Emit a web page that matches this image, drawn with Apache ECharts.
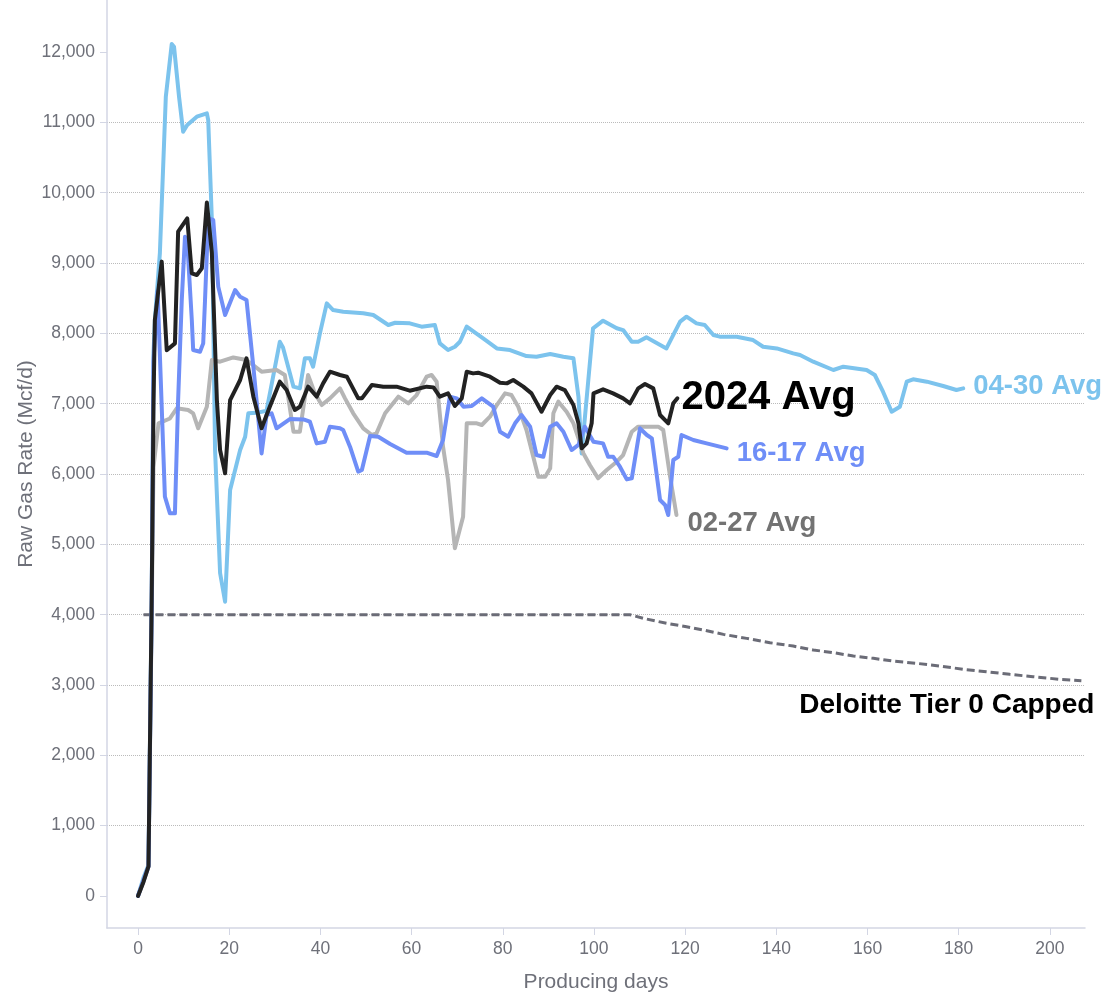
<!DOCTYPE html>
<html><head><meta charset="utf-8">
<script src="https://cdn.jsdelivr.net/npm/echarts@6/dist/echarts.min.js"></script>
<style>html,body{margin:0;padding:0;background:#fff}#c{width:1115px;height:1002px}</style>
</head><body><div id="c"></div>
<script>
const xTicks = [0,20,40,60,80,100,120,140,160,180,200];
const yTicks = [0,1000,2000,3000,4000,5000,6000,7000,8000,9000,10000,11000,12000];

const seriesNames = ['04-30 Avg','16-17 Avg','02-27 Avg','2024 Avg','Deloitte Tier 0 Capped'];

// [producing day, raw gas rate Mcf/d]
const avg0430 = [[0,0],[1.2,260],[2.3,440],[3.0,4200],[3.4,7720],[3.7,8190],[4.8,9143],[6.1,11365],[7.4,12114],[7.9,12076],[9.0,11365],[9.9,10868],[10.8,10962],[12.9,11081],[15.1,11128],[15.4,11033],[16.2,9612],[16.9,6341],[18.0,4593],[19.1,4185],[20.2,5773],[22.4,6341],[23.5,6531],[24.2,6863],[26,6870],[28.2,6900],[31.1,7880],[31.8,7800],[34.1,7242],[35.5,7218],[36.6,7645],[37.7,7645],[38.4,7526],[39.9,8000],[41.4,8427],[42.8,8332],[45,8308],[49.4,8285],[51.6,8261],[54.9,8119],[56.4,8151],[59.6,8143],[62.2,8095],[65.1,8119],[66.2,7858],[68,7763],[69.5,7810],[70.6,7881],[72.1,8095],[75.7,7929],[78.7,7786],[81.6,7763],[85.2,7678],[87.4,7668],[90.4,7706],[93.3,7668],[95.5,7645],[96.6,7100],[97.3,6293],[99.8,8072],[102,8180],[105,8072],[106.4,8047],[108.3,7881],[109.7,7881],[111.5,7943],[115.9,7786],[118.9,8166],[120.3,8237],[122.5,8142],[124.3,8119],[126.2,7977],[127.6,7953],[131.3,7953],[134.9,7905],[137.1,7810],[140.1,7786],[143.7,7715],[145.2,7692],[148.1,7597],[152.5,7479],[154.7,7526],[159.8,7479],[161.6,7408],[163.4,7170],[165.3,6886],[167.1,6957],[168.6,7313],[170,7347],[173,7313],[176.6,7252],[179.5,7195],[181,7218]];

const avg1617 = [[0,0],[1.2,220],[2.3,420],[3.0,4100],[3.4,7600],[4.3,8600],[5.9,5678],[7.0,5441],[8.1,5441],[8.8,7052],[9.6,8474],[10.3,9374],[10.8,9300],[11.8,8190],[12.1,7763],[13.6,7739],[14.3,7858],[14.7,8474],[15.4,9635],[16.5,9612],[17.6,8665],[19.1,8261],[21.3,8616],[22.4,8521],[23.8,8474],[25.3,7526],[27.1,6293],[28.2,6839],[29.3,6863],[30.4,6650],[33.3,6782],[36.3,6777],[37.7,6744],[39.2,6436],[41.0,6460],[42.1,6673],[44.3,6650],[45,6626],[46.5,6389],[48.3,6033],[49.1,6057],[50.9,6541],[52.7,6531],[55.3,6427],[58.9,6303],[63.3,6303],[65.5,6256],[66.9,6484],[68.4,7100],[69.9,7076],[71.4,6957],[73.2,6967],[75.4,7076],[77.9,6957],[79.4,6601],[81.2,6531],[82.7,6721],[84.1,6839],[86,6673],[87.4,6270],[88.9,6246],[90.4,6673],[91.8,6721],[93.3,6601],[95.1,6341],[96.6,6413],[98,6673],[99.9,6460],[102,6436],[103.1,6246],[104.2,6246],[105.7,6104],[107.2,5924],[108.3,5939],[110.1,6650],[111.6,6555],[112.7,6507],[114.5,5631],[115.6,5560],[116.3,5417],[117.4,6199],[118.5,6246],[119.2,6555],[121.8,6484],[124.7,6436],[129.1,6365]];

const avg0227 = [[0,0],[1.2,210],[2.3,420],[3.0,4000],[3.4,6100],[4.5,6720],[7.0,6790],[8.5,6934],[11,6910],[12.1,6863],[13.2,6650],[15.1,6957],[16.2,7621],[18,7597],[20.9,7658],[23.8,7621],[27.1,7455],[30.4,7479],[32.2,7408],[34.1,6601],[35.5,6601],[37.3,7408],[38.8,7147],[40.3,6981],[42.1,7076],[44.3,7218],[45.4,7076],[47.2,6863],[49.4,6650],[51.3,6555],[52.3,6578],[54.2,6863],[57.1,7100],[59.3,7005],[61.1,7123],[63.3,7384],[64.4,7408],[65.5,7313],[66.9,6389],[68,5915],[69.5,4944],[71.3,5393],[72.1,6721],[74.3,6721],[75.4,6697],[77.2,6815],[78.7,6981],[80.5,7147],[81.9,7123],[83.4,6957],[85.2,6626],[87.8,5962],[89.3,5962],[90.4,6081],[91.1,6863],[92.2,7029],[94,6886],[95.5,6721],[97.7,6293],[99.1,6128],[100.9,5939],[102.8,6057],[105,6175],[106.4,6270],[108.3,6601],[109.7,6673],[114.1,6673],[115.2,6626],[116.7,5962],[118.1,5417]];

const avg2024 = [[0,0],[1.2,200],[2.3,420],[3.0,4200],[3.4,7000],[3.7,8190],[5.2,9020],[6.3,7760],[8.1,7858],[8.8,9445],[10.8,9635],[11.8,8854],[12.9,8830],[14,8925],[15.1,9860],[16.2,9142],[17.3,7052],[18.0,6341],[19.1,6010],[20.2,7052],[21.3,7194],[22.4,7337],[23.8,7645],[25.3,7100],[27.1,6650],[28.9,6957],[31.1,7313],[32.6,7194],[34.4,6910],[35.5,6957],[37.3,7242],[39.2,7100],[40.6,7289],[42.1,7455],[44.3,7408],[45.8,7384],[48.3,7076],[49.1,7076],[51.3,7266],[53.8,7242],[56.7,7242],[59.6,7185],[63.3,7242],[64.8,7232],[66.2,7100],[68,7147],[69.5,6967],[71,7076],[72.1,7455],[73.5,7431],[74.6,7441],[77.2,7384],[79.4,7299],[80.9,7289],[82.3,7337],[84.5,7242],[86.3,7147],[88.5,6886],[90.4,7123],[91.8,7242],[93.6,7194],[95.5,6981],[96.6,6721],[97.3,6365],[98.4,6436],[99.5,6721],[99.9,7147],[102,7204],[104.2,7147],[106.4,7076],[107.9,7005],[109.7,7218],[111.2,7280],[113,7218],[114.5,6839],[116.3,6721],[117.4,7005],[118.3,7076]];

const deloitte = [[1.2,4000],[107.9,4000],[110.8,3948],[115.9,3877],[120.3,3829],[124,3782],[128.4,3720],[133.5,3663],[138.6,3601],[143.7,3554],[148.1,3498],[152.5,3460],[156.9,3412],[161.3,3379],[165.6,3341],[170.8,3308],[175.9,3270],[181,3223],[186.1,3189],[191.2,3152],[196.3,3118],[202.2,3081],[206.9,3062]];

const FONT = "'Liberation Sans', Arial, sans-serif";
const AXC = '#d3d6e4';
const TXT = '#6E7079';

function line(name, data, color, width, z, label, extra) {
  return Object.assign({
    type: 'line', name: name, data: data, showSymbol: false, symbol: 'none',
    z: z, lineStyle: { color: color, width: width, join: 'round', cap: 'round' },
    itemStyle: { color: color },
    endLabel: Object.assign({ show: true, formatter: name, fontFamily: FONT, fontWeight: 'bold' }, label)
  }, extra || {});
}

const chart = echarts.init(document.getElementById('c'), null, { renderer: 'canvas' });
chart.setOption({
  animation: false,
  backgroundColor: '#fff',
  textStyle: { fontFamily: FONT },
  grid: { left: 107, right: 30, top: 0, bottom: 74, containLabel: false },
  xAxis: {
    type: 'value', min: -6.8, max: 207.7, splitNumber: 10,
    name: 'Producing days', nameLocation: 'middle', nameGap: 44, nameMoveOverlap: false,
    nameTextStyle: { fontSize: 21, color: TXT, fontFamily: FONT },
    axisLine: { show: true, onZero: false, lineStyle: { color: AXC, width: 1.5 } },
    axisTick: { show: true, customValues: xTicks, length: 7, lineStyle: { color: AXC, width: 1 } },
    axisLabel: { customValues: xTicks, margin: 12, fontSize: 17.5, color: TXT, fontFamily: FONT },
    splitLine: { show: false }
  },
  yAxis: {
    type: 'value', min: -455, max: 12740, splitNumber: 13,
    name: 'Raw Gas Rate (Mcf/d)', nameLocation: 'middle', nameGap: 70, nameMoveOverlap: false,
    nameTextStyle: { fontSize: 21, color: TXT, fontFamily: FONT },
    axisLine: { show: true, onZero: false, lineStyle: { color: AXC, width: 1.5 } },
    axisTick: { show: true, customValues: yTicks, length: 7, lineStyle: { color: AXC, width: 1 } },
    axisLabel: { customValues: yTicks, margin: 12, fontSize: 17.5, color: TXT, fontFamily: FONT,
      formatter: v => Number(v).toLocaleString('en-US') },
    splitLine: { show: true, showMinLine: false, showMaxLine: false, lineStyle: { type: 'dotted', color: '#bbbbbb', width: 1 } }
  },
  series: [
    line(seriesNames[4], deloitte, '#6b6c77', 3, 2,
      { color: '#000', fontSize: 28, distance: 5, align: 'right', verticalAlign: 'middle', offset: [8, 25] },
      { lineStyle: { color: '#6b6c77', width: 3, type: [8, 4] } }),
    line(seriesNames[0], avg0430, '#7cc3ed', 4, 3,
      { color: '#7cc3ed', fontSize: 27.5, distance: 10, offset: [0, -2] }),
    line(seriesNames[2], avg0227, '#b5b5b5', 4, 4,
      { color: '#737373', fontSize: 27.5, distance: 11, offset: [0, 8] }),
    line(seriesNames[1], avg1617, '#6f8ef7', 4, 5,
      { color: '#6f8ef7', fontSize: 27.5, distance: 10, offset: [0, 5] }),
    line(seriesNames[3], avg2024, '#222222', 4, 6,
      { color: '#000', fontSize: 40, distance: 4, offset: [0, 0] })
  ]
});
</script>
</body></html>
